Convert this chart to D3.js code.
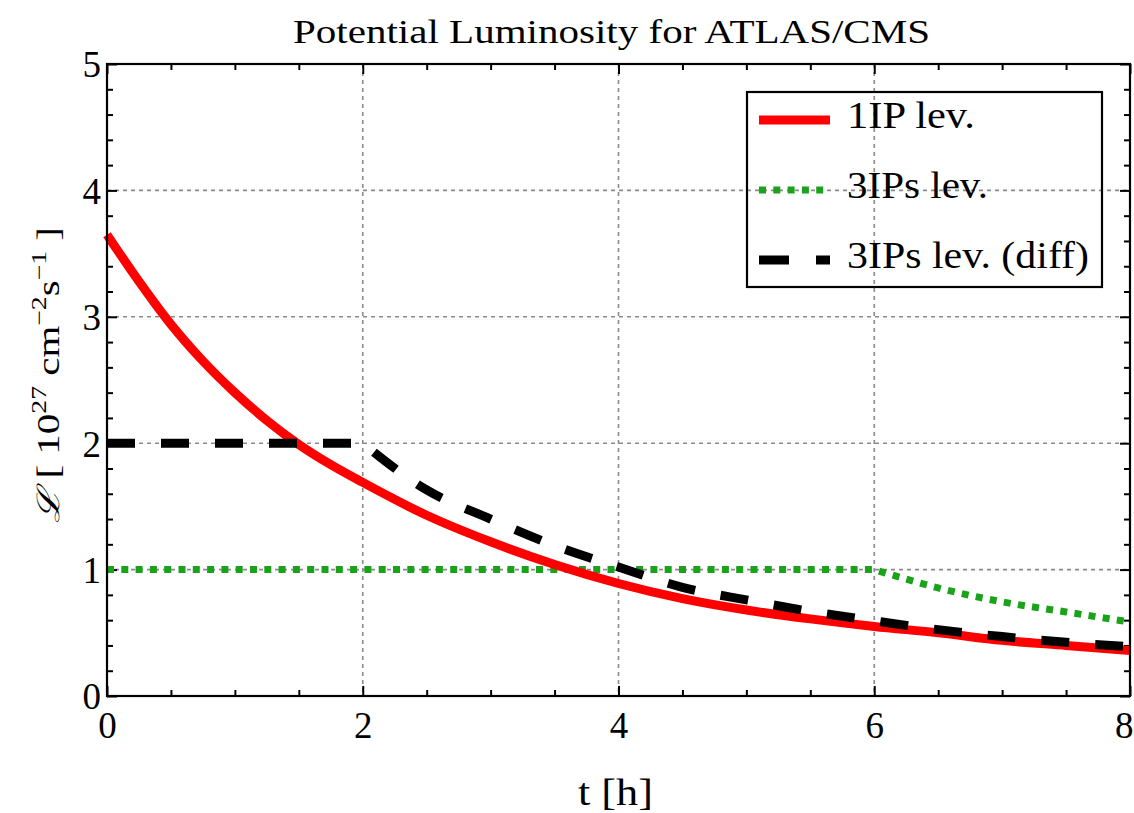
<!DOCTYPE html>
<html>
<head>
<meta charset="utf-8">
<script src="https://cdn.jsdelivr.net/npm/d3@7"></script>
<style>
  html, body { margin: 0; padding: 0; background: #fff; }
  svg { display: block; }
  text { font-family: "Liberation Serif", Tinos, "Nimbus Roman", "Times New Roman", Times, serif; fill: #000; }
</style>
</head>
<body>
<svg id="chart" width="1134" height="813"></svg>
<script>
// ---- data ----
const title = "Potential Luminosity for ATLAS/CMS";
const xLabel = "t [h]";
const xDomain = [0, 8];
const yDomain = [0, 5];
const xMajorTicks = [0, 2, 4, 6, 8];
const yMajorTicks = [0, 1, 2, 3, 4, 5];
const xGrid = [2, 4, 6];
const yGrid = [1, 2, 3, 4];

// 1IP lev. (red, solid)
const tRed = [0, 0.25, 0.5, 0.75, 1, 1.25, 1.5, 1.75, 2, 2.5, 3, 3.5, 4, 4.5, 5, 5.5, 6, 6.5, 7, 7.5, 8];
const lRed = [3.65, 3.28, 2.94, 2.65, 2.40, 2.18, 1.99, 1.83, 1.69, 1.43, 1.22, 1.04, 0.89, 0.77, 0.68, 0.61, 0.55, 0.50, 0.44, 0.40, 0.36];

// 3IPs lev. (green, dotted): levelled part then decay
const tGreenFlat = [0, 6];
const lGreenFlat = [1.0, 1.0];
const tGreenDecay = [6, 6.5, 7, 7.5, 8];
const lGreenDecay = [1.0, 0.855, 0.745, 0.665, 0.585];

// 3IPs lev. (diff) (black, dashed): levelled part then decay
const tBlackFlat = [0, 2];
const lBlackFlat = [2.0, 2.0];
const tBlackDecay = [2, 2.5, 3, 3.5, 4, 4.5, 5, 5.5, 6, 6.5, 7, 7.5, 8];
const lBlackDecay = [2.0, 1.63, 1.40, 1.19, 1.02, 0.86, 0.76, 0.67, 0.595, 0.525, 0.47, 0.425, 0.39];

const legendLabels = ["1IP lev.", "3IPs lev.", "3IPs lev. (diff)"];

// ---- drawing ----
(function () {
const svg = d3.select("#chart");
const serif = '"Liberation Serif", Tinos, "Nimbus Roman", "Times New Roman", Times, serif';
const x = d3.scaleLinear().domain(xDomain).range([107, 1130]);
const y = d3.scaleLinear().domain(yDomain).range([696, 64]);

function fitText(sel, target) {
  const w = sel.node().getComputedTextLength();
  if (w > 0) sel.attr("textLength", target).attr("lengthAdjust", "spacingAndGlyphs");
}

// grid
const grid = svg.append("g");
grid.selectAll("line.vx").data(xGrid).join("line")
  .attr("x1", d => x(d)).attr("x2", d => x(d))
  .attr("y1", y(5)).attr("y2", y(0))
  .attr("stroke", "#8a8a8a").attr("stroke-width", 1.6).attr("stroke-dasharray", "4,4");
grid.selectAll("line.hy").data(yGrid).join("line")
  .attr("x1", x(0)).attr("x2", x(8))
  .attr("y1", d => y(d)).attr("y2", d => y(d))
  .attr("stroke", "#8a8a8a").attr("stroke-width", 1.6).attr("stroke-dasharray", "4,4");

// axes (ticks inward on all four sides)
const xMinor = d3.range(0, 8.001, 0.5).filter(v => Math.abs(v % 2) > 1e-6);
const yMinor = d3.range(0, 5.001, 0.2).map(v => +v.toFixed(2)).filter(v => Math.abs(v - Math.round(v)) > 1e-6);

function styleAxis(g) {
  g.select(".domain").remove();
  g.selectAll(".tick line").attr("stroke", "#000").attr("stroke-width", 2);
}

const axB = svg.append("g").attr("transform", `translate(0,${y(0)})`)
  .call(d3.axisBottom(x).tickValues(xMajorTicks).tickSize(-10).tickFormat(d3.format("d")))
  .call(styleAxis);
axB.selectAll("text").attr("y", 42).attr("dy", null)
  .style("font-family", serif).style("font-size", "37px");
// keep the last label inside the window (reference shows it at the very edge)
axB.selectAll("text").filter(d => d === 8).attr("text-anchor", "end").attr("x", 3);
svg.append("g").attr("transform", `translate(0,${y(0)})`)
  .call(d3.axisBottom(x).tickValues(xMinor).tickSize(-6).tickFormat(""))
  .call(styleAxis);

svg.append("g").attr("transform", `translate(0,${y(5)})`)
  .call(d3.axisTop(x).tickValues(xMajorTicks).tickSize(-10).tickFormat(""))
  .call(styleAxis);
svg.append("g").attr("transform", `translate(0,${y(5)})`)
  .call(d3.axisTop(x).tickValues(xMinor).tickSize(-6).tickFormat(""))
  .call(styleAxis);

const axL = svg.append("g").attr("transform", `translate(${x(0)},0)`)
  .call(d3.axisLeft(y).tickValues(yMajorTicks).tickSize(-10).tickPadding(6).tickFormat(d3.format("d")))
  .call(styleAxis);
axL.selectAll("text").attr("dy", "0.35em")
  .style("font-family", serif).style("font-size", "37px");
svg.append("g").attr("transform", `translate(${x(0)},0)`)
  .call(d3.axisLeft(y).tickValues(yMinor).tickSize(-6).tickFormat(""))
  .call(styleAxis);

svg.append("g").attr("transform", `translate(${x(8)},0)`)
  .call(d3.axisRight(y).tickValues(yMajorTicks).tickSize(-10).tickFormat(""))
  .call(styleAxis);
svg.append("g").attr("transform", `translate(${x(8)},0)`)
  .call(d3.axisRight(y).tickValues(yMinor).tickSize(-6).tickFormat(""))
  .call(styleAxis);

// curves
const clipId = "plotclip";
svg.append("clipPath").attr("id", clipId).append("rect")
  .attr("x", x(0) - 6).attr("y", y(5)).attr("width", x(8) - x(0) + 6).attr("height", y(0) - y(5));

const smooth = d3.line().x(d => x(d[0])).y(d => y(d[1])).curve(d3.curveMonotoneX);
const straight = d3.line().x(d => x(d[0])).y(d => y(d[1]));

function kinkedPath(tf, lf, td, ld) {
  const flat = straight(d3.zip(tf, lf));
  const dec = smooth(d3.zip(td, ld));
  return flat + "L" + dec.slice(1);
}

const curves = svg.append("g").attr("clip-path", `url(#${clipId})`);
curves.append("path")
  .attr("d", kinkedPath(tGreenFlat, lGreenFlat, tGreenDecay, lGreenDecay))
  .attr("fill", "none").attr("stroke", "#1aa31a").attr("stroke-width", 7)
  .attr("stroke-dasharray", "7,7.3");
curves.append("path")
  .attr("d", smooth(d3.zip(tRed, lRed)))
  .attr("fill", "none").attr("stroke", "#ff0000").attr("stroke-width", 9);
curves.append("path")
  .attr("d", kinkedPath(tBlackFlat, lBlackFlat, tBlackDecay, lBlackDecay))
  .attr("fill", "none").attr("stroke", "#000").attr("stroke-width", 9)
  .attr("stroke-dasharray", "28,26");

// frame
svg.append("rect").attr("x", x(0)).attr("y", y(5))
  .attr("width", x(8) - x(0)).attr("height", y(0) - y(5))
  .attr("fill", "none").attr("stroke", "#000").attr("stroke-width", 2.2);

// title
const tt = svg.append("text").attr("x", 293).attr("y", 43)
  .style("font-size", "33px").text(title);
fitText(tt, 637);

// x label
const xl = svg.append("text").attr("x", 578).attr("y", 805)
  .style("font-size", "38px").text(xLabel);
fitText(xl, 75);

// y label (rotated)
const yl = svg.append("text")
  .attr("transform", `translate(59,523) rotate(-90)`)
  .style("font-size", "31px");
yl.append("tspan").style("font-style", "italic").style("font-family", '"DejaVu Serif", serif').text("\u2112");
yl.append("tspan").text(" [ 10");
yl.append("tspan").attr("dy", -13).style("font-size", "21px").text("27");
yl.append("tspan").attr("dy", 13).text(" cm");
yl.append("tspan").attr("dy", -13).style("font-size", "21px").text("\u22122");
yl.append("tspan").attr("dy", 13).text("s");
yl.append("tspan").attr("dy", -13).style("font-size", "21px").text("\u22121");
yl.append("tspan").attr("dy", 13).text(" ]");
fitText(yl, 296);

// legend (transparent box)
const leg = svg.append("g");
leg.append("rect").attr("x", 747).attr("y", 92).attr("width", 355).attr("height", 195)
  .attr("fill", "none").attr("stroke", "#000").attr("stroke-width", 2.2);
const legStyles = [
  { c: "#ff0000", w: 9, da: null },
  { c: "#1aa31a", w: 7, da: "7,7.3" },
  { c: "#000", w: 9, da: "30,27" }
];
const legY = [120, 190, 260];
const legW = [128, 141, 242];
legendLabels.forEach((lab, i) => {
  leg.append("line").attr("x1", 759).attr("x2", 830)
    .attr("y1", legY[i]).attr("y2", legY[i])
    .attr("stroke", legStyles[i].c).attr("stroke-width", legStyles[i].w)
    .attr("stroke-dasharray", legStyles[i].da);
  const t = leg.append("text").attr("x", 847).attr("y", legY[i] + 8)
    .style("font-size", "38px").text(lab);
  fitText(t, legW[i]);
});
})();
</script>
</body>
</html>
